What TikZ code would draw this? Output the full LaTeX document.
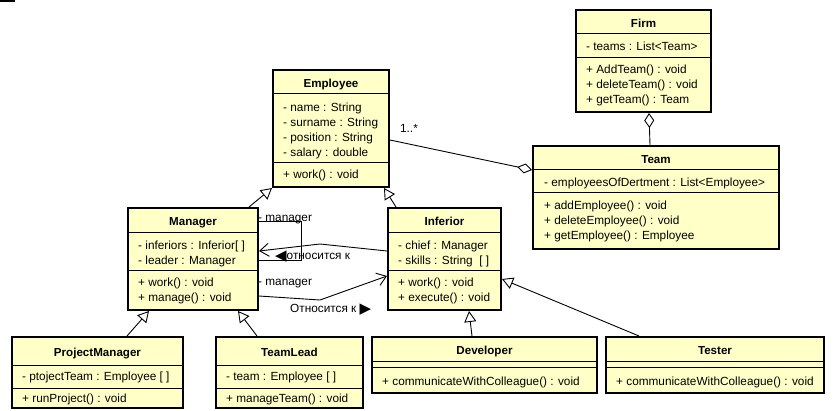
\documentclass[tikz,border=0pt]{standalone}
\usepackage{fontspec}
\setmainfont{Liberation Sans}
\newfontfamily\trifont{DejaVu Sans}
\usetikzlibrary{arrows.meta,fit,calc}
\definecolor{umlfill}{RGB}{255,255,200}
\tikzset{
  classbox/.style={draw=black, line width=2pt, fill=umlfill, inner sep=0pt, rectangle},
  sepline/.style={draw=black, line width=1pt},
  classtitle/.style={font=\fontsize{11.6}{13}\selectfont\bfseries, inner sep=0pt, text height=8.3pt, text depth=0pt},
  member/.style={font=\fontsize{11.8}{13}\selectfont, inner sep=0pt, anchor=west, text height=8.4pt, text depth=0pt},
  lbl/.style={font=\fontsize{11.8}{13}\selectfont, inner sep=0pt, text height=8.4pt, text depth=0pt},
  conn/.style={draw=black, line width=0.9pt},
  gen/.style={conn, -{Triangle[length=11pt,width=12pt,fill=white,line width=0.9pt]}},
  agg/.style={conn, -{Diamond[length=15pt,width=10pt,fill=white,line width=0.9pt]}},
  assoc/.style={conn, -{Straight Barb[length=9pt,width=13pt,line width=0.9pt]}},
}
\newcommand\umlclass[8]{%
  \coordinate (#1-nw) at (#2,#3);
  \coordinate (#1-se) at (#4,#5);
  \node[classbox, fit=(#1-nw)(#1-se)] (#1) {};
  \draw[sepline] (#2,#6) -- (#4,#6) (#2,#7) -- (#4,#7);
  \node[classtitle] (#1-title) at ({(#2+#4)/2},{(#3+#6)/2+1.5}) {#8};
}
\newcommand\umlmembers[4]{%
  \foreach \m [count=\i] in {#4} {
    \node[member] (#1-\i) at (#2,{#3+15.2*(\i-1)}) {\m};
  }
}
\begin{document}
\begin{tikzpicture}[x=1pt,y=-1pt]
\useasboundingbox (0,0) rectangle (835,410);
\fill[black] (0,0) rectangle (15,1.6);

% Employee
\umlclass{emp}{273}{70}{389}{187}{93}{162}{Employee}
\umlmembers{empa}{283}{107}{- name : String, - surname : String, - position : String, - salary : double}
\umlmembers{empm}{283}{174}{+ work() : void}

% Firm
\umlclass{firm}{576}{10}{711}{112}{33}{57}{Firm}
\umlmembers{firma}{586}{46}{- teams : List<Team>}
\umlmembers{firmm}{586}{69}{+ AddTeam() : void, + deleteTeam() : void, + getTeam() : Team}

% Team
\umlclass{team}{533}{146}{779}{249}{169}{192}{Team}
\umlmembers{teama}{544}{182}{- employeesOfDertment : List<Employee>}
\umlmembers{teamm}{544}{205}{+ addEmployee() : void, + deleteEmployee() : void, + getEmployee() : Employee}

% Manager
\umlclass{mgr}{128}{208}{258}{310}{232}{270}{Manager}
\umlmembers{mgra}{138}{245}{- inferiors : Inferior[ ], - leader : Manager}
\umlmembers{mgrm}{138}{282}{+ work() : void, + manage() : void}

% Inferior
\umlclass{inf}{388}{208}{501}{310}{232}{270}{Inferior}
\umlmembers{infa}{398}{245}{- chief : Manager, - skills : String~~[ ]}
\umlmembers{infm}{398}{282}{+ work() : void, + execute() : void}

% ProjectManager
\umlclass{pm}{12}{337}{183}{408}{365}{388}{ProjectManager}
\umlmembers{pma}{22}{376}{- ptojectTeam : Employee [ ]}
\umlmembers{pmm}{22}{398}{+ runProject() : void}

% TeamLead
\umlclass{tl}{216}{337}{363}{408}{365}{388}{TeamLead}
\umlmembers{tla}{226}{376}{- team : Employee [ ]}
\umlmembers{tlm}{226}{398}{+ manageTeam() : void}

% Developer
\umlclass{dev}{372}{337}{597}{393}{361}{367}{Developer}
\umlmembers{devm}{382}{381}{+ communicateWithColleague() : void}

% Tester
\umlclass{tst}{606}{337}{824}{393}{361}{367}{Tester}
\umlmembers{tstm}{616}{381}{+ communicateWithColleague() : void}

% Generalizations
\draw[gen] ($(mgr.north east)+(-10,0)$) -- (emp.south west);
\draw[gen] ($(inf.north west)+(9,0)$) -- ($(emp.south east)+(-6,0)$);
\draw[gen] ($(pm.north west)+(116,0)$) -- ($(mgr.south west)+(22,0)$);
\draw[gen] ($(tl.north west)+(42,0)$) -- ($(mgr.south east)+(-21,0)$);
\draw[gen] ($(dev.north west)+(101,0)$) -- ($(inf.south east)+(-33,0)$);
\draw[gen] ($(tst.north west)+(34,0)$) -- ($(inf.north east)+(0,72)$);

% Aggregations
\draw[agg] ($(emp.north east)+(0,71)$) -- ($(team.north west)+(0,25)$);
\node[lbl] (mult) at (409,128) {1..*};
\draw[agg] ($(team.north west)+(118,0)$) -- ($(firm.south west)+(74,0)$);

% Manager self association
\draw[conn] ($(mgr.north east)+(0,14)$) -- ++(42,0) -- ++(0,39) -- ($(mgr.north east)+(0,53)$);
\node[lbl, anchor=west] (selfrole) at (258,217) {- manager};

% Inferior -> Manager
\coordinate (bendA) at (320,244);
\draw[assoc] ($(inf.north west)+(0,44)$) -- (bendA) -- ($(mgr.north east)+(0,44)$);
\node[lbl, anchor=west] (relA) at (275,255) {{\trifont\fontsize{15}{13}\selectfont\raisebox{-1pt}{◀}}относится к};

% Manager -> Inferior
\coordinate (bendB) at (320,300);
\draw[assoc] ($(mgr.north east)+(0,89)$) -- (bendB) -- ($(inf.north west)+(0,69)$);
\node[lbl, anchor=west] (roleB) at (258,281) {- manager};
\node[lbl, anchor=west] (relB) at (290,308) {Относится к {\trifont\fontsize{15}{13}\selectfont\raisebox{-1pt}{▶}}};
\end{tikzpicture}
\end{document}
